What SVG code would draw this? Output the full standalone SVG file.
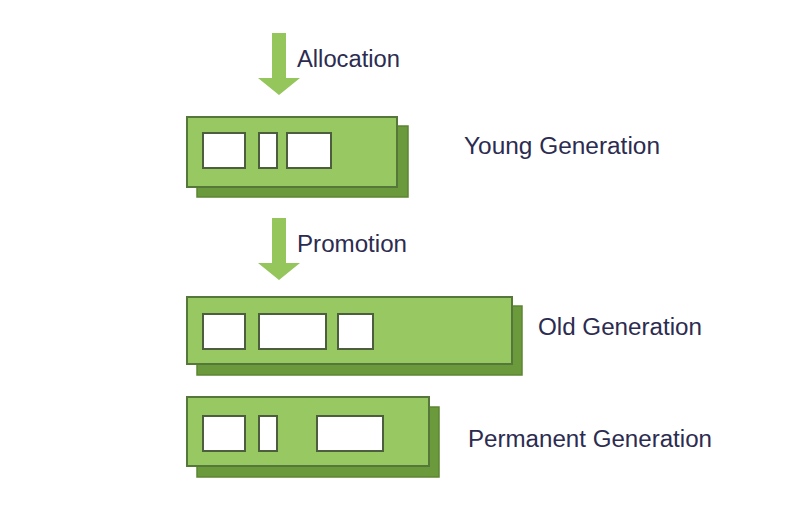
<svg xmlns="http://www.w3.org/2000/svg" width="804" height="508" viewBox="0 0 804 508">
<style>
.shadow{fill:#6b9a3c;stroke:#5c8532;stroke-width:1.5}
.box{fill:#97c862;stroke:#56773a;stroke-width:2}
.slot{fill:#ffffff;stroke:#4d5e3f;stroke-width:2}
.arrow{fill:#94c65c}
.lbl{font-family:"Liberation Sans",Arial,sans-serif;font-size:23px;fill:#2c2b50}
</style>
<rect width="804" height="508" fill="#ffffff"/>
<g id="connectors">
<polygon class="arrow" points="272,33 286,33 286,78 300,78 279,95 258,78 272,78"/>
<polygon class="arrow" points="272,218 286,218 286,263 300,263 279,280 258,263 272,263"/>
</g>
<g id="young">
<rect class="shadow" x="197" y="126" width="211" height="71"/>
<rect class="box" x="187" y="117" width="210" height="70"/>
<rect class="slot" x="203" y="133" width="42" height="35"/>
<rect class="slot" x="259" y="133" width="18" height="35"/>
<rect class="slot" x="287" y="133" width="44" height="35"/>
</g>
<g id="old">
<rect class="shadow" x="197" y="306" width="325" height="69"/>
<rect class="box" x="187" y="297" width="325" height="67"/>
<rect class="slot" x="203" y="314" width="42" height="35"/>
<rect class="slot" x="259" y="314" width="67" height="35"/>
<rect class="slot" x="338" y="314" width="35" height="35"/>
</g>
<g id="permanent">
<rect class="shadow" x="197" y="407" width="242" height="70"/>
<rect class="box" x="187" y="397" width="242" height="69"/>
<rect class="slot" x="203" y="416" width="42" height="35"/>
<rect class="slot" x="259" y="416" width="18" height="35"/>
<rect class="slot" x="317" y="416" width="66" height="35"/>
</g>
<g id="labels">
<text class="lbl" x="297" y="67" textLength="103" lengthAdjust="spacingAndGlyphs">Allocation</text>
<text class="lbl" x="297" y="252" textLength="110" lengthAdjust="spacingAndGlyphs">Promotion</text>
<text class="lbl" x="464" y="154" textLength="196" lengthAdjust="spacingAndGlyphs">Young Generation</text>
<text class="lbl" x="538" y="335" textLength="164" lengthAdjust="spacingAndGlyphs">Old Generation</text>
<text class="lbl" x="468" y="447" textLength="244" lengthAdjust="spacingAndGlyphs">Permanent Generation</text>
</g>
</svg>
